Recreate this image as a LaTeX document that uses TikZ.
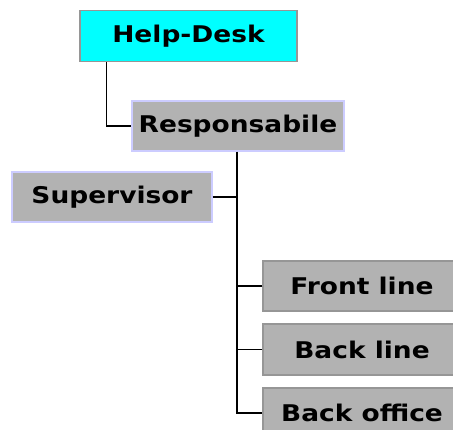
\documentclass[tikz,border=0pt]{standalone}
\usepackage{fontspec}
\setmainfont[FakeStretch=1.15]{DejaVu Sans}
\definecolor{boxgray}{RGB}{178,178,178}
\definecolor{lavender}{RGB}{204,204,255}
\definecolor{framegray}{RGB}{150,150,150}
\definecolor{aqua}{RGB}{0,255,255}
\begin{document}
\begin{tikzpicture}[x=1pt,y=-1pt,
  unit/.style={rectangle, line width=1.2pt, inner sep=0pt,
    font=\bfseries\fontsize{23}{27}\selectfont},
  topunit/.style={unit, fill=aqua, draw=framegray},
  mgrunit/.style={unit, fill=boxgray, draw=lavender},
  teamunit/.style={unit, fill=boxgray, draw=framegray},
  link/.style={line width=1.5pt, black}]
\useasboundingbox (0,0) rectangle (453,429);
% boxes
\node[topunit, minimum width=217pt, minimum height=51pt] (hd) at (188.5,36) {Help-Desk};
\node[mgrunit, minimum width=212pt, minimum height=50pt] (resp) at (238,126) {Responsabile};
\node[mgrunit, minimum width=200pt, minimum height=50pt] (sup) at (112,197) {Supervisor};
\node[teamunit, minimum width=198pt, minimum height=50pt] (fl) at (362,286) {Front line};
\node[teamunit, minimum width=198pt, minimum height=51pt] (bl) at (362,349.5) {Back line};
\node[teamunit, minimum width=198pt, minimum height=50pt] (bo) at (362,413) {Back office};
% connectors
\draw[link] ([xshift=27pt]hd.south west) |- (resp.west);
\draw[link] ([xshift=-1pt]resp.south) |- (bo.west);
\draw[link] (sup.east) -- ([xshift=-1pt]sup.east -| resp.south);
\draw[link] (fl.west) -- ([xshift=-1pt]fl.west -| resp.south);
\draw[link] (bl.west) -- ([xshift=-1pt]bl.west -| resp.south);
\end{tikzpicture}
\end{document}
